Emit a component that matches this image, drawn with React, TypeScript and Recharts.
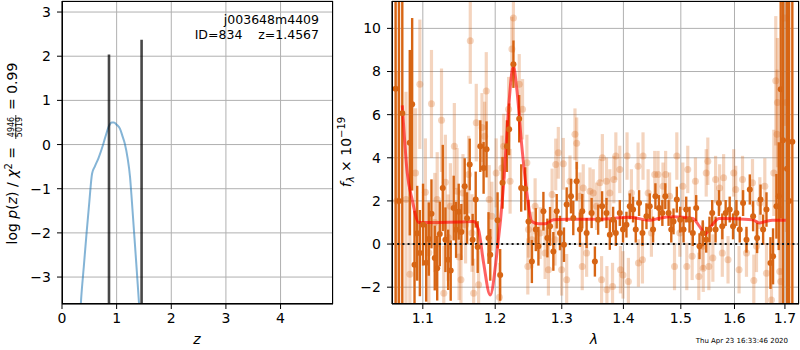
import React from "react";
import {
  ComposedChart,
  Line,
  Scatter,
  XAxis,
  YAxis,
  CartesianGrid,
  ReferenceLine,
  ErrorBar,
  Label,
} from "recharts";

const FONT = "'DejaVu Sans', sans-serif";

// ---------- left panel: log p(z) ----------
const zValues = [0.3, 0.35, 0.4, 0.45, 0.5, 0.55, 0.6, 0.67, 0.74, 0.8, 0.86, 0.91, 0.95, 1.0, 1.06, 1.11, 1.15, 1.2, 1.245, 1.28, 1.32, 1.36, 1.41, 1.45];
const logPzValues = [-4.6, -3.5, -2.75, -2.0, -1.3, -0.66, -0.5, -0.3, -0.05, 0.2, 0.42, 0.5, 0.5, 0.45, 0.36, 0.18, 0.02, -0.3, -0.73, -1.3, -2.0, -2.7, -3.6, -4.3];
const zTicks = [0, 1, 2, 3, 4];
const lnpTicks = [-3, -2, -1, 0, 1, 2, 3];
const zDomain = [0, 4.96];
const lnpDomain = [-3.61, 3.25];
const peakZ = [0.86, 1.4567];
const peakTop = [2.04, 2.37];

// ---------- right panel: spectrum ----------
const darkLam = [1.0646, 1.0689, 1.0732, 1.0829, 1.086, 1.0891, 1.0926, 1.0961, 1.1003, 1.1045, 1.1079, 1.1115, 1.1159, 1.1192, 1.1227, 1.1267, 1.1303, 1.134, 1.1375, 1.1416, 1.1449, 1.1485, 1.1522, 1.1568, 1.1601, 1.1638, 1.1679, 1.1722, 1.175, 1.1787, 1.1834, 1.1876, 1.1904, 1.1929, 1.2034, 1.2072, 1.2106, 1.217, 1.2203, 1.2266, 1.2351, 1.2381, 1.2441, 1.249, 1.2541, 1.26, 1.264, 1.2716, 1.2777, 1.2818, 1.2869, 1.2921, 1.2972, 1.3034, 1.3077, 1.3145, 1.3181, 1.3235, 1.3287, 1.3324, 1.3394, 1.3475, 1.3528, 1.3581, 1.3646, 1.3718, 1.3773, 1.3828, 1.3873, 1.3939, 1.3993, 1.4051, 1.4107, 1.4163, 1.4209, 1.4266, 1.4324, 1.4393, 1.445, 1.4508, 1.4549, 1.4611, 1.4671, 1.4723, 1.4781, 1.4829, 1.4869, 1.4928, 1.4989, 1.5049, 1.5098, 1.5158, 1.5218, 1.528, 1.5341, 1.5401, 1.5465, 1.5526, 1.5577, 1.564, 1.5703, 1.5767, 1.5831, 1.5908, 1.5972, 1.6037, 1.6101, 1.6166, 1.6232, 1.6297, 1.6362, 1.6441, 1.6508, 1.656, 1.6627, 1.6707, 1.6759, 1.6827, 1.6874, 1.6914, 1.6961, 1.7042, 1.7085, 1.7152];
const darkFlux = [7.2, 2.0, 6.06, 4.7, 6.48, -0.96, 0.5, -0.42, 0.9, -0.87, 0.23, 1.4, -0.65, -1.12, 0.47, 2.6, 0.2, -0.73, -1.23, 1.67, 0.66, 1.5, 0.56, 2.68, 1.2, 3.69, 0.2, 2.06, -0.14, 4.54, 3.53, 4.39, 0.28, -0.5, 1.1, -1.43, 2.84, 4.54, 5.32, 8.34, 5.81, 2.6, 2.56, 1.05, -0.81, 0.67, -0.1, 1.52, 0.28, 0.82, -0.34, 1.52, 0.51, -0.03, 1.83, 2.22, 1.21, 2.91, 0.67, 1.52, 0.51, 1.44, -0.81, 1.13, 1.75, 1.44, 0.43, 1.13, 0.51, 1.44, 0.67, 0.9, 1.75, 1.6, 0.67, 1.9, 0.51, 1.29, 1.75, 0.67, 2.22, 1.67, 1.44, 2.22, 1.44, 0.67, 1.05, 2.06, 1.13, 0.67, 1.6, 1.13, 0.51, 1.67, -0.1, 0.5, 0.2, 0.67, 1.44, 0.67, 1.9, 0.82, 1.44, 1.6, 0.82, 1.44, 0.67, 1.9, 0.2, 2.53, 1.29, 0.28, 2.06, 0.67, 1.6, -0.88, -0.57, 1.75, 2.22, 7.18, 4.81, 3.49, 2.0, 4.74];
const darkErr = [14, 14, 10, 4.3, 4.0, 2.5, 2.2, 2.0, 1.9, 1.8, 1.7, 1.6, 1.5, 1.5, 1.5, 2.0, 1.5, 1.4, 1.4, 1.5, 1.3, 1.3, 1.3, 1.3, 1.2, 1.2, 1.2, 1.3, 1.2, 1.2, 1.2, 1.3, 1.2, 1.2, 1.3, 1.2, 1.2, 1.2, 1.2, 1.1, 1.1, 1.1, 1.0, 1.0, 1.0, 1.0, 0.9, 0.9, 0.9, 0.9, 0.9, 0.8, 0.8, 0.8, 0.8, 0.8, 0.8, 0.9, 0.8, 0.8, 0.7, 0.7, 0.7, 0.7, 0.7, 0.7, 0.7, 0.6, 0.6, 0.6, 0.6, 0.6, 0.6, 0.6, 0.6, 0.6, 0.6, 0.6, 0.6, 0.6, 0.6, 0.6, 0.6, 0.6, 0.6, 0.6, 0.6, 0.6, 0.6, 0.6, 0.6, 0.6, 0.6, 0.6, 0.6, 0.6, 0.6, 0.6, 0.6, 0.6, 0.6, 0.6, 0.6, 0.6, 0.6, 0.6, 0.6, 0.6, 0.6, 0.7, 0.7, 0.7, 0.7, 0.7, 0.8, 1.2, 1.3, 1.5, 2.5, 6, 8, 10, 14, 14];

const lightLam = [1.066, 1.078, 1.083, 1.0904, 1.0961, 1.1034, 1.108, 1.1115, 1.116, 1.1192, 1.125, 1.1281, 1.1303, 1.134, 1.1371, 1.1425, 1.1462, 1.149, 1.1516, 1.1544, 1.158, 1.1623, 1.1646, 1.167, 1.1693, 1.173, 1.1763, 1.1811, 1.1848, 1.1872, 1.1914, 1.1952, 1.2014, 1.2061, 1.2097, 1.2124, 1.2195, 1.2217, 1.2243, 1.2266, 1.2352, 1.2401, 1.2466, 1.248, 1.249, 1.2541, 1.259, 1.2666, 1.2742, 1.2793, 1.285, 1.2895, 1.2906, 1.2946, 1.2998, 1.3024, 1.3077, 1.3129, 1.3208, 1.3235, 1.3287, 1.3324, 1.334, 1.3394, 1.3448, 1.3501, 1.3555, 1.3609, 1.3637, 1.365, 1.3718, 1.3725, 1.3773, 1.3818, 1.384, 1.3873, 1.3939, 1.395, 1.3993, 1.4061, 1.4084, 1.4135, 1.4249, 1.4255, 1.4324, 1.4334, 1.4422, 1.4479, 1.4537, 1.4595, 1.4682, 1.4729, 1.4799, 1.4887, 1.4928, 1.4982, 1.5036, 1.5108, 1.5126, 1.5206, 1.5266, 1.5328, 1.5401, 1.541, 1.5465, 1.5495, 1.5514, 1.5589, 1.564, 1.5717, 1.5767, 1.5792, 1.5876, 1.5985, 1.6024, 1.6088, 1.6155, 1.6232, 1.635, 1.6376, 1.6429, 1.6495, 1.6594, 1.6627, 1.6727, 1.6774, 1.6814, 1.684, 1.6848, 1.6895, 1.6914, 1.6995, 1.7029];
const lightFlux = [2.0, 2.06, -1.4, 3.3, 7.41, 2.4, -0.4, 6.5, 1.0, 2.06, 5.74, -2.28, 2.87, 0.3, 1.75, 4.54, 2.45, -0.6, -1.66, 2.37, 0.9, 3.22, 9.43, 0.51, -2.28, 5.63, -1.89, 5.4, 5.0, 7.1, 2.06, 1.29, 3.3, -2.47, 3.53, 4.54, 6.25, 2.91, 9.04, 10.48, 7.41, 6.25, 3.77, -1.04, 0.67, 0.2, 1.75, 0.51, -0.42, -1.19, 2.3, 0.2, 3.69, 4.23, -1.19, 3.72, -1.66, 2.91, 5.09, 4.67, 2.22, -1.04, 2.6, -0.42, 2.45, 2.37, 1.75, 2.84, -1.66, 4.0, 2.91, -2.12, 2.37, -1.97, 2.99, 4.08, 3.46, -1.19, -1.43, 4.08, -1.74, 2.37, 3.61, -0.88, -0.73, 4.08, 2.37, 0.51, 3.22, 3.22, 2.68, 3.22, 2.22, -1.04, 4.08, 0.51, 2.68, -1.04, 3.46, -0.57, 2.91, -1.5, -0.1, -1.12, 3.3, 3.84, -1.04, -0.65, 2.99, 2.6, -0.42, 3.07, -0.73, 3.3, 2.53, -1.19, 2.99, -0.42, 2.84, -1.69, -0.1, 1.9, 2.68, -1.35, -2.59, 3.3, 7.57, 5.09, 6.56, -1.27, -1.74, 10.48, 6.56];
const lightErr = [6, 5, 4, 3, 3, 2.5, 2.4, 2.5, 2.3, 2.2, 2.4, 2.2, 2.2, 2.0, 2.0, 2.0, 2.0, 2.0, 1.8, 1.8, 1.8, 1.8, 2.0, 1.8, 1.6, 1.8, 1.6, 1.6, 1.6, 1.8, 1.6, 1.6, 1.6, 1.6, 1.5, 1.5, 1.5, 1.5, 1.5, 1.6, 1.4, 1.4, 1.3, 1.3, 1.3, 1.3, 1.3, 1.2, 1.2, 1.2, 1.2, 1.2, 1.2, 1.2, 1.2, 1.2, 1.2, 1.2, 1.2, 1.2, 1.1, 1.1, 1.1, 1.1, 1.1, 1.1, 1.1, 1.1, 1.1, 1.1, 1.1, 1.1, 1.1, 1.1, 1.1, 1.1, 1.1, 1.1, 1.1, 1.1, 1.1, 1.1, 1.1, 1.1, 1.1, 1.1, 1.1, 1.1, 1.1, 1.1, 1.1, 1.1, 1.1, 1.1, 1.1, 1.1, 1.1, 1.1, 1.1, 1.1, 1.1, 1.1, 1.1, 1.1, 1.1, 1.1, 1.1, 1.1, 1.1, 1.1, 1.1, 1.1, 1.1, 1.1, 1.1, 1.1, 1.1, 1.1, 1.1, 1.2, 1.2, 1.2, 1.3, 1.4, 1.6, 2.0, 3, 3, 3, 3, 3.5, 5, 6];

const modelLam = [1.0732, 1.0796, 1.086, 1.0947, 1.12, 1.15, 1.1693, 1.1763, 1.1834, 1.1928, 1.2025, 1.212, 1.2193, 1.2266, 1.2316, 1.239, 1.2465, 1.2541, 1.2642, 1.2744, 1.2873, 1.3077, 1.36, 1.4107, 1.4221, 1.445, 1.4623, 1.4859, 1.5218, 1.534, 1.5445, 1.5555, 1.5711, 1.635, 1.6481, 1.6613, 1.6746, 1.7018];
const modelFlux = [6.43, 3.3, 2.06, 1.0, 1.0, 1.02, 1.05, 0.66, -0.88, -2.36, -0.42, 2.68, 6.25, 8.26, 7.18, 4.54, 2.39, 1.05, 0.94, 0.94, 1.13, 1.15, 1.15, 1.24, 1.2, 1.1, 1.2, 1.26, 1.18, 0.82, 0.47, 0.82, 1.18, 1.13, 0.98, 1.05, 1.1, 1.1];

const lamTicks = [1.1, 1.2, 1.3, 1.4, 1.5, 1.6, 1.7];
const fluxTicks = [-2, 0, 2, 4, 6, 8, 10];
const lamDomain = [1.06, 1.729];
const fluxDomain = [-2.78, 11.27];

// ---------- tables built from arrays ----------
const pzData = zValues.map((z, i) => ({ z, lnp: logPzValues[i] }));
const peakData = peakZ.map((z, i) => [
  { z, lnp: lnpDomain[0] - 1 },
  { z, lnp: peakTop[i] },
]);
const darkData = darkLam.map((lam, i) => ({ lam, f: darkFlux[i], e: darkErr[i] }));
const lightData = lightLam.map((lam, i) => ({ lam, f: lightFlux[i], e: lightErr[i] }));
const modelData = modelLam.map((lam, i) => ({ lam, f: modelFlux[i] }));

// error bar extent limited to the visible plot window (drawing-time clipping only)
const clippedErr = (d: any) => [
  Math.max(0, Math.min(d.e, d.f - fluxDomain[0])),
  Math.max(0, Math.min(d.e, fluxDomain[1] - d.f)),
];

const DARK = "#d76514";
const GRID = "#b0b0b0";
const minus = (v: number) => String(v).replace("-", "\u2212");
const tickStyle = { fill: "#000", fontSize: 14, fontFamily: FONT };

const LeftExtras = () => (
  <g fontFamily={FONT} fill="#000">
    <g transform="rotate(-90)">
      <text x={-147} y={17} fontSize={14} textAnchor="end">
        log <tspan fontStyle="italic">p</tspan>(<tspan fontStyle="italic">z</tspan>) / <tspan fontStyle="italic">χ</tspan>
        <tspan dy={-5} fontSize={10}>2</tspan>
        <tspan dy={5}> =</tspan>
      </text>
      <text x={-127} y={14} fontSize={8} textAnchor="middle">4946</text>
      <line x1={-139} x2={-115} y1={15.8} y2={15.8} stroke="#000" strokeWidth={0.8} />
      <text x={-127} y={22} fontSize={8} textAnchor="middle">5019</text>
      <text x={-110} y={17} fontSize={14}>= 0.99</text>
    </g>
    <text x={197} y={344} fontSize={14} fontStyle="italic" textAnchor="middle">z</text>
    <text x={319} y={24} fontSize={12.5} textAnchor="end">j003648m4409</text>
    <text x={319} y={39} fontSize={12.5} textAnchor="end" style={{ whiteSpace: "pre" }}>
      {"ID=834    z=1.4567"}
    </text>
  </g>
);

// right chart svg starts at page x = 330
const RightExtras = () => (
  <g fontFamily={FONT} fill="#000">
    <g transform="rotate(-90)">
      <text x={-152} y={21} fontSize={14} textAnchor="middle">
        <tspan fontStyle="italic">f</tspan>
        <tspan fontSize={10} fontStyle="italic" dy={3}>λ</tspan>
        <tspan dy={-3}> × 10</tspan>
        <tspan fontSize={10} dy={-6}>−19</tspan>
      </text>
    </g>
    <text x={264} y={344} fontSize={14} fontStyle="italic" textAnchor="middle">λ</text>
    <text x={458} y={343} fontSize={7} textAnchor="end">Thu Apr 23 16:33:46 2020</text>
  </g>
);

const darkShape = (p: any) => <circle cx={p.cx} cy={p.cy} r={3} fill={DARK} />;
const lightShape = (p: any) => <circle cx={p.cx} cy={p.cy} r={3.5} fill={DARK} fillOpacity={0.28} />;

export default function App() {
  return (
    <div style={{ position: "absolute", left: 0, top: 0, width: 800, height: 350, background: "#fff" }}>
      <div style={{ position: "absolute", left: 0, top: 0 }}>
        <ComposedChart width={340} height={350} margin={{ top: 1, right: 7, bottom: 16, left: 0 }}>
          <CartesianGrid stroke={GRID} strokeWidth={1} />
          <XAxis
            dataKey="z"
            type="number"
            domain={zDomain}
            ticks={zTicks}
            allowDataOverflow
            height={30}
            tickSize={5}
            tickMargin={4}
            tick={tickStyle}
            tickFormatter={minus}
            stroke="#000"
          />
          <YAxis
            type="number"
            domain={lnpDomain}
            ticks={lnpTicks}
            allowDataOverflow
            width={62}
            tickSize={5}
            tickMargin={6}
            tick={tickStyle}
            tickFormatter={minus}
            stroke="#000"
          >
            <Label content={() => <LeftExtras />} />
          </YAxis>
          <Line
            data={pzData}
            dataKey="lnp"
            type="monotone"
            stroke="#1f77b4"
            strokeOpacity={0.55}
            strokeWidth={2}
            dot={false}
            isAnimationActive={false}
          />
          {peakData.map((d, i) => (
            <Line
              key={i}
              data={d}
              dataKey="lnp"
              type="linear"
              stroke="#000"
              strokeOpacity={0.72}
              strokeWidth={2.6}
              dot={false}
              isAnimationActive={false}
            />
          ))}
        </ComposedChart>
        <div style={{ position: "absolute", left: 62, top: 1, width: 271, height: 303, border: "1px solid #000", boxSizing: "border-box", pointerEvents: "none" }} />
      </div>
      <div style={{ position: "absolute", left: 330, top: 0 }}>
        <ComposedChart width={470} height={350} margin={{ top: 1, right: 1, bottom: 16, left: 0 }}>
          <CartesianGrid stroke={GRID} strokeWidth={1} />
          <XAxis
            dataKey="lam"
            type="number"
            scale="log"
            domain={lamDomain}
            ticks={lamTicks}
            allowDataOverflow
            height={30}
            tickSize={5}
            tickMargin={4}
            tick={tickStyle}
            tickFormatter={minus}
            stroke="#000"
          />
          <YAxis
            type="number"
            domain={fluxDomain}
            ticks={fluxTicks}
            allowDataOverflow
            width={62}
            tickSize={5}
            tickMargin={6}
            tick={tickStyle}
            tickFormatter={minus}
            stroke="#000"
          >
            <Label content={() => <RightExtras />} />
          </YAxis>
          <Scatter data={lightData} dataKey="f" shape={lightShape} isAnimationActive={false}>
            <ErrorBar dataKey={clippedErr} direction="y" width={0} stroke={DARK} strokeOpacity={0.28} strokeWidth={3.2} />
          </Scatter>
          <Scatter data={darkData} dataKey="f" shape={darkShape} isAnimationActive={false}>
            <ErrorBar dataKey={clippedErr} direction="y" width={0} stroke={DARK} strokeWidth={2.4} />
          </Scatter>
          <Line
            data={modelData}
            dataKey="f"
            type="monotone"
            stroke="#ff0000"
            strokeOpacity={0.62}
            strokeWidth={3}
            dot={false}
            isAnimationActive={false}
          />
          <ReferenceLine y={0} stroke="#111" strokeWidth={2} strokeDasharray="2 3.2" />
        </ComposedChart>
        <div style={{ position: "absolute", left: 62, top: 1, width: 407, height: 303, border: "1px solid #000", boxSizing: "border-box", pointerEvents: "none" }} />
      </div>
    </div>
  );
}
